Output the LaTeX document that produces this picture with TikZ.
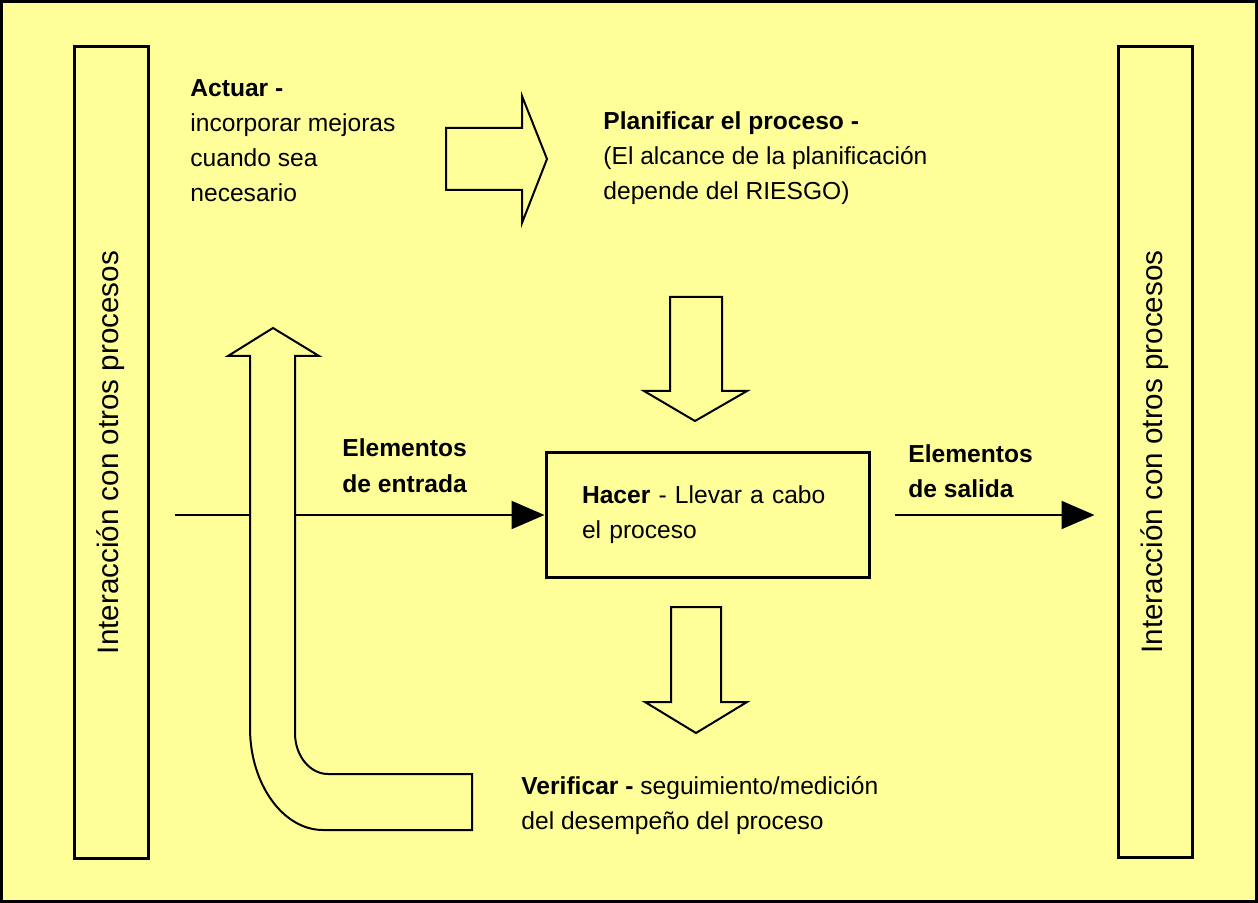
\documentclass[tikz,border=0pt]{standalone}
\usepackage{xcolor}
\usepackage{fontspec}
\setmainfont{Liberation Sans}
\usepackage{tikz}
\usetikzlibrary{arrows.meta}
\definecolor{amarillo}{RGB}{255,255,153}

\begin{document}
\begin{tikzpicture}[x=0.5pt,y=-0.5pt,every node/.style={inner sep=0pt,align=left,font=\fontsize{12.3}{17.5}\selectfont},
    lateral/.style={draw,line width=1.5pt,rotate=90,minimum width=405.5pt,minimum height=37pt,align=center,font=\fontsize{14.8}{18}\selectfont},
    flecha/.style={line width=1pt,-{Triangle[length=16.5pt,width=14pt]}},
    bloque/.style={draw,fill=amarillo,line width=1pt,line join=miter}]
      \useasboundingbox (0,0) rectangle (1258,903);
      \fill[amarillo] (0,0) rectangle (1258,903);
      \draw[line width=1.5pt] (1.5,1.5) rectangle (1256.5,901.5);
      \node[lateral] (izq) at (111,452.5) {Interacción con otros procesos};
      \node[lateral] (der) at (1155,452) {Interacción con otros procesos};
      \node[draw,line width=1.5pt,minimum width=161.5pt,minimum height=62pt,text width=125.5pt,inner xsep=18pt] (hacer) at (707.5,515) {\textbf{Hacer} - Llevar a cabo\\el proceso};
      \node[anchor=base west] (actuar) at (190,202) {\textbf{Actuar -}\\incorporar mejoras\\cuando sea\\necesario};
      \node[anchor=base west] (planificar) at (603,200) {\textbf{Planificar el proceso -}\\(El alcance de la planificación\\depende del RIESGO)};
      \node[anchor=base west] (entrada) at (342,492) {\textbf{Elementos}\\\textbf{de entrada}};
      \node[anchor=base west] (salida) at (908,497) {\textbf{Elementos}\\\textbf{de salida}};
      \node[anchor=base west] (verificar) at (521,829) {\textbf{Verificar -} seguimiento/medición\\del desempeño del proceso};
      \draw[flecha,shorten <=12.5pt] (hacer.west -| izq.south) -- (hacer.west);
      \draw[flecha,shorten <=12pt,shorten >=11pt] (hacer.east) -- (hacer.east -| der.north);
      \draw[bloque] (446,128) -- (522,128) -- (522,96) -- (547,159) -- (522,223) -- (522,190) -- (446,190) -- cycle;
      \draw[bloque] (670,297) -- (722,297) -- (722,391) -- (747,391) -- (695,421) -- (644,391) -- (670,391) -- cycle;
      \draw[bloque] (671,607) -- (721,607) -- (721,702) -- (747,702) -- (696,733) -- (645,702) -- (671,702) -- cycle;
      \draw[bloque] (273,328) -- (319,356) -- (295,356) -- (295,733) .. controls (295,756) and (310,774) .. (328,774) -- (472,774) -- (472,830) -- (323,830) .. controls (283,830) and (250,784) .. (250,728) -- (250,356) -- (228,356) -- cycle;
\end{tikzpicture}
\end{document}
